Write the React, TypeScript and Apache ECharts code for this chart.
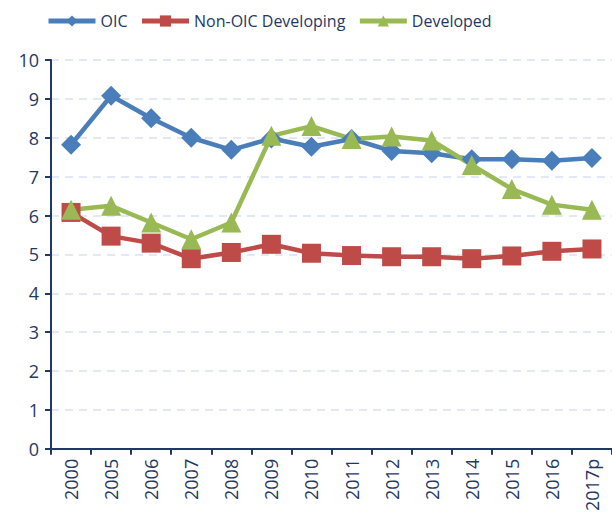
import React, { useEffect, useRef } from "react";
import * as echarts from "echarts";

const categories = ["2000", "2005", "2006", "2007", "2008", "2009", "2010", "2011", "2012", "2013", "2014", "2015", "2016", "2017p"];
const oic = [7.82, 9.08, 8.5, 8.0, 7.69, 7.98, 7.77, 7.97, 7.66, 7.6, 7.45, 7.45, 7.41, 7.48];
const nonOic = [6.08, 5.47, 5.29, 4.89, 5.05, 5.26, 5.03, 4.97, 4.94, 4.94, 4.89, 4.96, 5.08, 5.14];
const developed = [6.15, 6.25, 5.82, 5.39, 5.82, 8.05, 8.3, 7.97, 8.03, 7.93, 7.3, 6.68, 6.28, 6.15];
const yTicks = { min: 0, max: 10, interval: 1 };

const navy = "#1F3864";
const font = "'Open Sans', sans-serif";

export default function App() {
  const ref = useRef<HTMLDivElement>(null);
  useEffect(() => {
    if (!ref.current) return;
    const chart = echarts.init(ref.current, undefined, { renderer: "svg" });
    const mk = (name: string, data: number[], color: string, symbol: string, size: number) => ({
      name,
      type: "line",
      data,
      symbol,
      symbolSize: size,
      lineStyle: { width: 4.5, color },
      itemStyle: { color },
    });
    chart.setOption({
      animation: false,
      textStyle: { fontFamily: font },
      legend: {
        top: 8,
        left: 41,
        itemWidth: 47,
        itemHeight: 14,
        itemGap: 12,
        lineStyle: { width: 5 },
        textStyle: { color: navy, fontSize: 16, fontFamily: font },
        data: ["OIC", "Non-OIC Developing", "Developed"],
      },
      grid: { left: 51, right: -4, top: 60, bottom: 64, containLabel: false },
      xAxis: {
        type: "category",
        data: categories,
        boundaryGap: true,
        axisLine: { lineStyle: { color: navy, width: 2 } },
        axisTick: { show: true, length: 6, lineStyle: { color: navy, width: 2 }, alignWithLabel: false },
        axisLabel: { rotate: 90, color: navy, fontSize: 18, margin: 10, fontFamily: font, interval: 0 },
      },
      yAxis: {
        type: "value",
        min: yTicks.min,
        max: yTicks.max,
        interval: yTicks.interval,
        axisLine: { show: true, lineStyle: { color: navy, width: 2 } },
        axisTick: { show: true, length: 6, lineStyle: { color: navy, width: 2 } },
        axisLabel: { color: navy, fontSize: 18, margin: 12, fontFamily: font },
        splitLine: { lineStyle: { color: "#D9E2F3", type: [8, 6], width: 1.5 } },
      },
      series: [
        mk("OIC", oic, "#4A7EBB", "diamond", 20),
        mk("Non-OIC Developing", nonOic, "#BE4B48", "rect", 19),
        mk("Developed", developed, "#98B954", "triangle", 20),
      ],
    });
    return () => chart.dispose();
  }, []);
  return <div ref={ref} style={{ position: "absolute", left: 0, top: 0, width: 612, height: 514 }} />;
}
